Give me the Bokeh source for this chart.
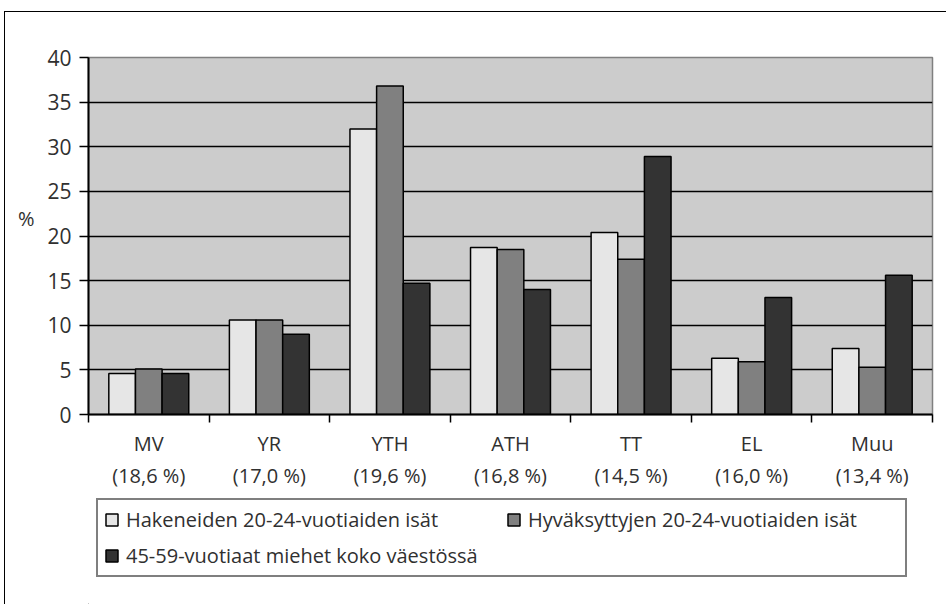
from bokeh.plotting import figure
from bokeh.models import (ColumnDataSource, FixedTicker, Legend, LegendItem,
                          LinearAxis, Range1d)
from bokeh.layouts import column
from bokeh.transform import dodge
from bokeh.embed import file_html
from bokeh.resources import INLINE

categories = ["MV", "YR", "YTH", "ATH", "TT", "EL", "Muu"]
shares = ["(18,6 %)", "(17,0 %)", "(19,6 %)", "(16,8 %)", "(14,5 %)", "(16,0 %)", "(13,4 %)"]
hakeneiden = [4.6, 10.6, 32.0, 18.7, 20.4, 6.3, 7.4]
hyvaksyttyjen = [5.1, 10.6, 36.8, 18.5, 17.4, 5.9, 5.3]
miehet = [4.6, 9.0, 14.7, 14.0, 28.9, 13.1, 15.6]
series_names = ["Hakeneiden 20-24-vuotiaiden isät",
                "Hyväksyttyjen 20-24-vuotiaiden isät",
                "45-59-vuotiaat miehet koko väestössä"]
y_ticks = [0, 5, 10, 15, 20, 25, 30, 35, 40]
y_unit = "%"
y_unit_pos = 22

FONT = "Open Sans"
TXT = "#303030"
colors = ["#e6e6e6", "#808080", "#333333"]
centers = [i + 0.5 for i in range(len(categories))]
src = ColumnDataSource(dict(x=centers, a=hakeneiden, b=hyvaksyttyjen, c=miehet))

p = figure(width=941, height=482, output_backend="svg", toolbar_location=None,
           x_range=Range1d(0, len(categories)), y_range=Range1d(0, 40),
           min_border_left=83, min_border_top=45, min_border_right=14, min_border_bottom=80,
           background_fill_color="#cccccc", border_fill_color="white",
           outline_line_color="#808080", outline_line_width=1.5)

bw = 0.221
rends = []
for off, key, col in zip([-bw, 0, bw], ["a", "b", "c"], colors):
    r = p.vbar(x=dodge("x", off, range=p.x_range), top=key, width=bw, bottom=0, source=src,
               fill_color=col, line_color="black", line_width=1.5)
    rends.append(r)

# grid
p.xgrid.visible = False
p.ygrid.ticker = FixedTicker(ticks=y_ticks[1:-1])
p.ygrid.grid_line_color = "black"
p.ygrid.grid_line_width = 1.5
p.ygrid.level = "underlay"

# y axis
p.yaxis.ticker = FixedTicker(ticks=y_ticks)
p.yaxis.axis_line_color = "black"
p.yaxis.axis_line_width = 2
p.yaxis.major_tick_in = 0
p.yaxis.major_tick_out = 9
p.yaxis.major_tick_line_width = 1.5
p.yaxis.minor_tick_line_color = None
p.yaxis.major_label_standoff = 8
p.yaxis.major_label_text_font = FONT
p.yaxis.major_label_text_font_size = "21px"
p.yaxis.major_label_text_color = TXT

# "%" unit as a second, unlined left axis
unit_axis = LinearAxis(ticker=FixedTicker(ticks=[y_unit_pos]),
                       major_label_overrides={y_unit_pos: y_unit},
                       axis_line_color=None, major_tick_line_color=None,
                       minor_tick_line_color=None, major_tick_in=0, major_tick_out=0,
                       major_label_standoff=10, major_label_text_font=FONT,
                       major_label_text_font_size="20px", major_label_text_color=TXT)
p.add_layout(unit_axis, "left")

# x axis: ticks at boundaries (minor), labels at centers (major)
p.xaxis.ticker = FixedTicker(ticks=centers, minor_ticks=list(range(len(categories) + 1)))
p.xaxis.major_label_overrides = {c: f"{n}\n{s}" for c, n, s in zip(centers, categories, shares)}
p.xaxis.major_tick_in = 0
p.xaxis.major_tick_out = 0
p.xaxis.minor_tick_in = 0
p.xaxis.minor_tick_out = 8
p.xaxis.minor_tick_line_color = "black"
p.xaxis.minor_tick_line_width = 1.5
p.xaxis.axis_line_color = "black"
p.xaxis.axis_line_width = 2
p.xaxis.major_label_standoff = 7
p.xaxis.major_label_text_font = FONT
p.xaxis.major_label_text_font_size = "20px"
p.xaxis.major_label_text_color = TXT
p.xaxis.major_label_text_line_height = 1.2

# legend figure (its glyphs are kept far outside its visible range)
p2 = figure(width=941, height=110, output_backend="svg", toolbar_location=None,
            x_range=Range1d(0, 1), y_range=Range1d(0, 1),
            min_border=0, x_axis_location=None, y_axis_location=None,
            outline_line_color=None, background_fill_color="white", border_fill_color="white")
p2.xgrid.visible = False
p2.ygrid.visible = False
leg_rends = [p2.vbar(x=[-10], bottom=[-10], top=[-9], width=1, fill_color=c,
                     line_color="black", line_width=1.5)
             for c in colors]
legend = Legend(items=[LegendItem(label=n, renderers=[r]) for n, r in zip(series_names, leg_rends)],
                orientation="horizontal", ncols=2,
                location=(8, 27), margin=0,
                border_line_color="black", border_line_width=2,
                background_fill_color="white", background_fill_alpha=1,
                label_text_font=FONT, label_text_font_size="20px", label_text_color=TXT,
                glyph_width=15, glyph_height=15, label_width=371, label_standoff=7,
                label_height=23, spacing=9, padding=6)
p2.add_layout(legend)

layout = column(p, p2, margin=(11, 0, 0, 4), spacing=0,
                styles={"border-left": "1.5px solid black", "border-top": "1.5px solid black"})

open("out.html", "w").write(file_html(layout, INLINE))
